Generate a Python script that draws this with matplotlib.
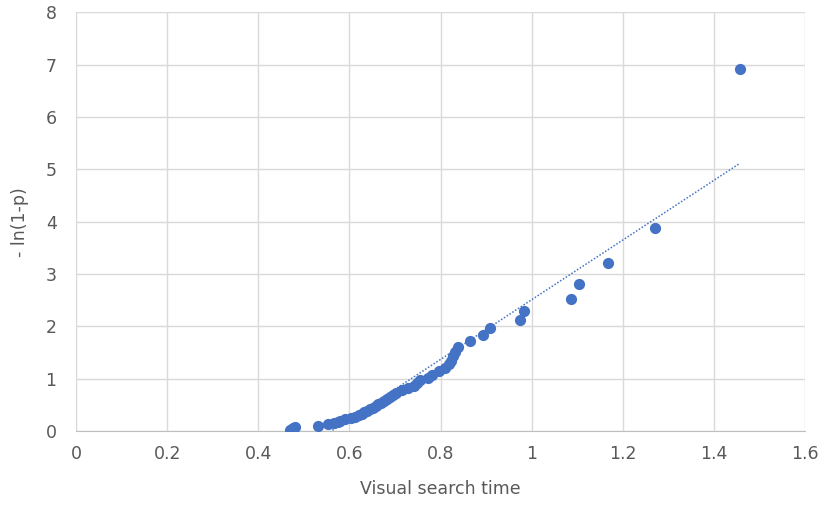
import numpy as np
import matplotlib
matplotlib.use("Agg")
from matplotlib import pyplot as plt

# visual search time (sorted) and -ln(1-p)
search_time = [0.470, 0.473, 0.477, 0.480, 0.531, 0.553, 0.566, 0.574, 0.580, 0.590,
               0.603, 0.612, 0.620, 0.627, 0.633, 0.639, 0.645, 0.652, 0.658, 0.663,
               0.670, 0.676, 0.682, 0.689, 0.695, 0.703, 0.716, 0.728, 0.741, 0.749,
               0.755, 0.773, 0.782, 0.797, 0.810, 0.818, 0.823, 0.828, 0.831, 0.838,
               0.864, 0.893, 0.908, 0.974, 0.983, 1.087, 1.103, 1.168, 1.271, 1.457]
neg_log = [0.0202, 0.0408, 0.0619, 0.0834, 0.1054, 0.1278, 0.1508, 0.1744, 0.1985, 0.2231,
           0.2485, 0.2744, 0.3011, 0.3285, 0.3567, 0.3857, 0.4155, 0.4463, 0.4780, 0.5108,
           0.5447, 0.5798, 0.6162, 0.6539, 0.6931, 0.7340, 0.7765, 0.8210, 0.8675, 0.9163,
           0.9676, 1.0217, 1.0788, 1.1394, 1.2040, 1.2730, 1.3471, 1.4271, 1.5141, 1.6094,
           1.7148, 1.8326, 1.9661, 2.1203, 2.3026, 2.5257, 2.8134, 3.2189, 3.8700, 6.9078]

blue = '#4472C4'
grey_text = '#595959'

fig = plt.figure(figsize=(8.22, 5.09), dpi=100)
ax = fig.add_axes([0.0925, 0.153, 0.887, 0.823])

ax.scatter(search_time, neg_log, s=65, color=blue, zorder=3, linewidths=0)

# linear trendline
x = np.array(search_time)
slope, intercept = np.polyfit(x, np.array(neg_log), 1)
xl = np.array([x.min(), x.max()])
ax.plot(xl, slope * xl + intercept, linestyle=(0, (1, 1.2)), color=blue, linewidth=1.1, zorder=2)

ax.set_xlim(0, 1.6)
ax.set_ylim(0, 8)
ax.set_xticks(np.arange(0, 1.61, 0.2))
ax.set_xticklabels(['0', '0.2', '0.4', '0.6', '0.8', '1', '1.2', '1.4', '1.6'])
ax.set_yticks(range(0, 9))
ax.grid(True, color='#D9D9D9', linewidth=1)
ax.set_axisbelow(True)
for s in ['top', 'right', 'left']:
    ax.spines[s].set_visible(False)
ax.spines['bottom'].set_color('#BFBFBF')
ax.tick_params(length=0, labelsize=12.5, labelcolor=grey_text, pad=10)
ax.tick_params(axis='y', pad=14)

ax.set_xlabel('Visual search time', fontsize=12.5, color=grey_text, labelpad=12)
ax.set_ylabel('- ln(1-p)', fontsize=12.5, color=grey_text, labelpad=12)

fig.savefig('out.png')
